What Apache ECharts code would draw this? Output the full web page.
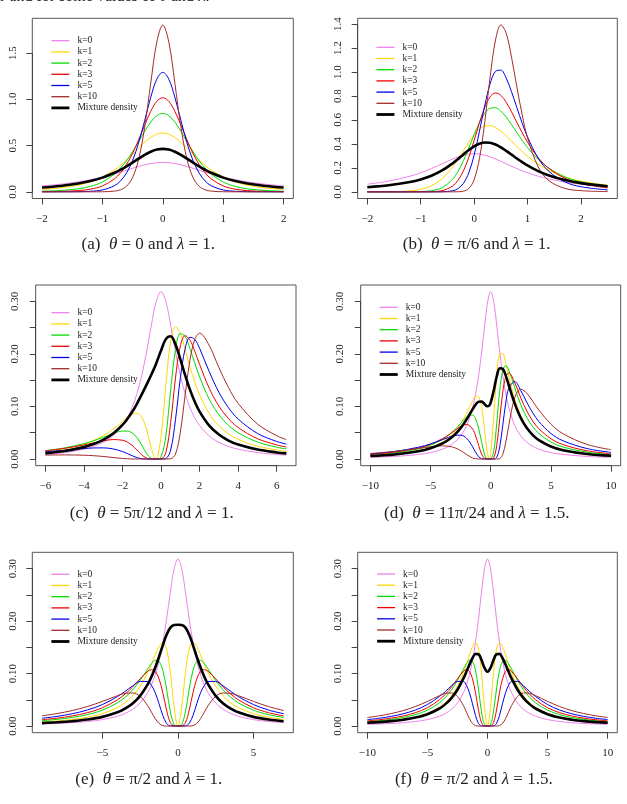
<!DOCTYPE html>
<html><head><meta charset="utf-8">
<script src="https://cdn.jsdelivr.net/npm/echarts@6/dist/echarts.min.js"></script>
<style>html,body{margin:0;padding:0;background:#fff}#c{width:627px;height:804px}</style>
</head><body><div id="c"></div>
<script>
// ---------- Panel (a): theta = 0, lambda = 1 ----------
const XA = [-2,-1.7,-1.4,-1.2,-1,-0.8,-0.7,-0.6,-0.5,-0.4,-0.3,-0.2,-0.1,0,0.1,0.2,0.3,0.4,0.5,0.6,0.7,0.8,1,1.2,1.4,1.7,2];
const A_K0 = [.0637,.0818,.1075,.1304,.1592,.1941,.2136,.2341,.2546,.2744,.2920,.3061,.3152,.3183,.3152,.3061,.2920,.2744,.2546,.2341,.2136,.1941,.1592,.1304,.1075,.0818,.0637];
const A_K1 = [.0255,.0421,.0726,.1069,.1592,.2367,.2867,.3442,.4074,.4731,.5358,.5886,.6241,.6366,.6241,.5886,.5358,.4731,.4074,.3442,.2867,.2367,.1592,.1069,.0726,.0421,.0255];
const A_K2 = [.0068,.0144,.0328,.0585,.1061,.1924,.2566,.3374,.4346,.5437,.6554,.7546,.8239,.8488,.8239,.7546,.6554,.5437,.4346,.3374,.2566,.1924,.1061,.0585,.0328,.0144,.0068];
const A_K3 = [.0016,.0045,.0132,.0287,.0637,.1408,.2067,.2977,.4172,.5626,.7216,.8707,.9789,1.0186,.9789,.8707,.7216,.5626,.4172,.2977,.2067,.1408,.0637,.0287,.0132,.0045,.0016];
const A_K5 = [.0001,.0004,.0019,.0061,.0202,.0665,.1182,.2045,.3390,.5310,.7713,1.0222,1.2186,1.2935,1.2186,1.0222,.7713,.5310,.3390,.2045,.1182,.0665,.0202,.0061,.0019,.0004,.0001];
const A_K10 = [0,0,0,.0001,.0009,.0078,.0225,.0614,.1551,.3531,.6998,1.1732,1.6189,1.8060,1.6189,1.1732,.6998,.3531,.1551,.0614,.0225,.0078,.0009,.0001,0,0,0];
const A_MIX = [.0468,.0635,.0899,.1163,.1538,.2063,.2390,.2763,.3170,.3593,.3998,.4341,.4573,.4654,.4573,.4341,.3998,.3593,.3170,.2763,.2390,.2063,.1538,.1163,.0899,.0635,.0468];

// ---------- Panel (b): theta = pi/6, lambda = 1 ----------
const XB = [-2,-1.6,-1.2,-1,-0.8,-0.6,-0.4,-0.3,-0.2,-0.1,0,0.1,0.2,0.3,0.4,0.5,0.6,0.7,0.8,0.9,1,1.2,1.4,1.7,2,2.5];
const B_K0 = [.0637,.0894,.1304,.1592,.1941,.2340,.2744,.2920,.3061,.3152,.3183,.3152,.3061,.2920,.2744,.2546,.2340,.2136,.1941,.1759,.1592,.1304,.1075,.0818,.0637,.0439];
const B_K1 = [.0005,.0002,.0076,.0213,.0514,.1103,.2099,.2747,.3453,.4156,.4775,.5237,.5492,.5531,.5377,.5075,.4680,.4240,.3794,.3366,.2970,.2298,.1782,.1239,.0887,.0542];
const B_K2 = [0,0,.0003,.0019,.0091,.0347,.1070,.1722,.2598,.3653,.4775,.5800,.6571,.6983,.7023,.6742,.6238,.5610,.4944,.4294,.3694,.2699,.1968,.1250,.0823,.0446];
const B_K3 = [0,0,0,.0002,.0014,.0098,.0491,.0972,.1759,.2890,.4297,.5783,.7075,.7936,.8257,.8061,.7483,.6681,.5798,.4931,.4137,.2852,.1957,.1136,.0688,.0331];
const B_K5 = [0,0,0,0,0,.0007,.0091,.0273,.0711,.1596,.3070,.5069,.7233,.9037,1.0064,1.0163,.9497,.8356,.7032,.5734,.4573,.2810,.1706,.0827,.0424,.0160];
const B_K10 = [0,0,0,0,0,0,.0001,.0009,.0057,.0278,.1017,.2802,.5875,.9610,1.2681,1.3936,1.3240,1.1231,.8753,.6423,.4513,.2080,.0930,.0287,.0097,.0020];
const B_MIX = [.0388,.0543,.0814,.1032,.1340,.1782,.2389,.2748,.3125,.3489,.3802,.4023,.4123,.4093,.3948,.3713,.3422,.3105,.2787,.2485,.2206,.1734,.1370,.0983,.0727,.0469];

// ---------- Panel (c): theta = 5pi/12, lambda = 1 ----------
const XC = [-6,-5,-4,-3.5,-3,-2.5,-2,-1.75,-1.5,-1.25,-1,-0.75,-0.5,-0.27,0,0.25,0.5,0.75,1,1.25,1.5,1.75,2,2.5,3,3.5,4,5,6,6.5];
const C_K0 = [.0086,.0122,.0187,.0240,.0318,.0439,.0637,.0784,.0979,.1242,.1592,.2037,.2546,.2967,.3183,.2996,.2546,.2037,.1592,.1242,.0979,.0784,.0637,.0439,.0318,.0240,.0187,.0122,.0086,.0074];
const C_K1 = [.0143,.0197,.0286,.0353,.0443,.0563,.0713,.0790,.0854,.0872,.0796,.0565,.0205,0,.0427,.1412,.2242,.2521,.2387,.2084,.1758,.1465,.1222,.0866,.0634,.0480,.0374,.0244,.0171,.0145];
const C_K2 = [.0158,.0211,.0292,.0347,.0412,.0481,.0532,.0532,.0496,.0408,.0265,.0105,.0011,0,.0038,.0444,.1316,.2080,.2387,.2331,.2103,.1827,.1564,.1138,.0843,.0640,.0499,.0324,.0225,.0192];
const C_K3 = [.0157,.0203,.0268,.0306,.0344,.0370,.0357,.0322,.0260,.0172,.0080,.0017,.0001,0,.0003,.0125,.0695,.1544,.2149,.2347,.2264,.2050,.1801,.1346,.1007,.0768,.0599,.0387,.0268,.0227];
const C_K5 = [.0137,.0167,.0199,.0210,.0212,.0193,.0142,.0104,.0063,.0027,.0006,0,0,0,0,.0009,.0171,.0750,.1535,.2097,.2315,.2277,.2106,.1662,.1270,.0975,.0760,.0487,.0334,.0282];
const C_K10 = [.0074,.0078,.0072,.0063,.0048,.0029,.0011,.0005,.0001,0,0,0,0,0,0,0,.0004,.0095,.0508,.1216,.1880,.2273,.2394,.2161,.1741,.1359,.1059,.0666,.0444,.0370];
const C_MIX = [.0110,.0153,.0226,.0284,.0364,.0479,.0648,.0760,.0894,.1051,.1228,.1415,.1608,.1800,.2063,.2281,.2334,.2179,.1901,.1596,.1319,.1088,.0902,.0635,.0465,.0351,.0274,.0179,.0125,.0107];

// ---------- Panel (d): theta = 11pi/24, lambda = 1.5 ----------
const XD = [-10,-8,-6,-5,-4,-3.5,-3,-2.5,-2,-1.5,-1.25,-1,-0.75,-0.5,-0.3,-0.13,0,0.25,0.5,0.75,1,1.25,1.5,2,2.5,3,3.5,4,5,6,8,10];
const D_K0 = [.0032,.0049,.0086,.0122,.0187,.0240,.0318,.0439,.0637,.0979,.1242,.1592,.2037,.2546,.2920,.3130,.3183,.2996,.2546,.2037,.1592,.1242,.0979,.0637,.0439,.0318,.0240,.0187,.0122,.0086,.0049,.0032];
const D_K1 = [.0060,.0092,.0157,.0219,.0324,.0404,.0515,.0668,.0874,.1109,.1192,.1180,.0980,.0543,.0149,0,.0108,.0807,.1598,.1992,.2003,.1819,.1577,.1137,.0825,.0614,.0470,.0370,.0244,.0172,.0098,.0063];
const D_K2 = [.0076,.0115,.0192,.0262,.0374,.0454,.0555,.0677,.0800,.0838,.0762,.0583,.0314,.0077,.0005,0,.0003,.0145,.0669,.1299,.1681,.1776,.1693,.1355,.1032,.0789,.0613,.0486,.0324,.0229,.0131,.0084];
const D_K3 = [.0086,.0129,.0211,.0282,.0388,.0458,.0539,.0618,.0658,.0569,.0439,.0259,.0091,.0010,0,0,0,.0024,.0252,.0762,.1270,.1561,.1636,.1452,.1163,.0913,.0720,.0576,.0387,.0274,.0157,.0101];
const D_K5 = [.0098,.0143,.0224,.0287,.0369,.0412,.0448,.0454,.0394,.0232,.0128,.0045,.0007,0,0,0,0,0,.0032,.0232,.0639,.1063,.1347,.1472,.1302,.1077,.0875,.0713,.0487,.0348,.0199,.0127];
const D_K10 = [.0105,.0144,.0201,.0232,.0250,.0243,.0216,.0161,.0084,.0019,.0005,0,0,0,0,0,0,0,0,.0009,.0088,.0312,.0637,.1169,.1327,.1252,.1096,.0932,.0665,.0482,.0278,.0177];
const D_MIX = [.0057,.0087,.0147,.0203,.0296,.0366,.0460,.0587,.0754,.0948,.1035,.1090,.1091,.1042,.1004,.1016,.1074,.1299,.1569,.1725,.1715,.1587,.1408,.1053,.0780,.0588,.0454,.0359,.0238,.0168,.0096,.0062];

// ---------- Panels (e),(f): theta = pi/2 (component curves shared), lambda = 1 / 1.5 ----------
const XF = [-10,-9,-8,-7,-6,-5,-4,-3.5,-3,-2.5,-2,-1.75,-1.5,-1.25,-1,-0.75,-0.5,-0.25,0,0.25,0.5,0.75,1,1.25,1.5,1.75,2,2.5,3,3.5,4,5,6,7,8,9,10];
const F_K0 = [.0032,.0039,.0049,.0064,.0086,.0122,.0187,.0240,.0318,.0439,.0637,.0784,.0979,.1242,.1592,.2037,.2546,.2996,.3183,.2996,.2546,.2037,.1592,.1242,.0979,.0784,.0637,.0439,.0318,.0240,.0187,.0122,.0086,.0064,.0049,.0039,.0032];
const F_K1 = [.0062,.0077,.0096,.0125,.0167,.0235,.0352,.0444,.0573,.0757,.1019,.1181,.1356,.1515,.1592,.1467,.1019,.0353,0,.0353,.1019,.1467,.1592,.1515,.1356,.1181,.1019,.0757,.0573,.0444,.0352,.0235,.0167,.0125,.0096,.0077,.0062];
const F_K2 = [.0082,.0101,.0127,.0163,.0217,.0302,.0442,.0548,.0688,.0870,.1087,.1187,.1252,.1232,.1061,.0704,.0272,.0028,0,.0028,.0272,.0704,.1061,.1232,.1252,.1187,.1087,.0870,.0688,.0548,.0442,.0302,.0217,.0163,.0127,.0101,.0082];
const F_K3 = [.0098,.0120,.0150,.0192,.0254,.0348,.0500,.0608,.0743,.0900,.1043,.1074,.1040,.0901,.0637,.0304,.0065,.0002,0,.0002,.0065,.0304,.0637,.0901,.1040,.1074,.1043,.0900,.0743,.0608,.0500,.0348,.0254,.0192,.0150,.0120,.0098];
const F_K5 = [.0122,.0148,.0184,.0234,.0305,.0409,.0562,.0659,.0764,.0850,.0848,.0775,.0633,.0426,.0202,.0050,.0003,0,0,0,.0003,.0050,.0202,.0426,.0633,.0775,.0848,.0850,.0764,.0659,.0562,.0409,.0305,.0234,.0184,.0148,.0122];
const F_K10 = [.0162,.0195,.0238,.0295,.0371,.0469,.0579,.0622,.0630,.0565,.0388,.0264,.0141,.0050,.0009,0,0,0,0,0,0,0,.0009,.0050,.0141,.0264,.0388,.0565,.0630,.0622,.0579,.0469,.0371,.0295,.0238,.0195,.0162];
const E_MIX = [.0046,.0056,.0071,.0092,.0123,.0174,.0261,.0331,.0430,.0575,.0792,.0939,.1115,.1319,.1537,.1738,.1875,.1926,.1931,.1926,.1875,.1738,.1537,.1319,.1115,.0939,.0792,.0575,.0430,.0331,.0261,.0174,.0123,.0092,.0071,.0056,.0046];
const F_MIX = [.0061,.0074,.0093,.0121,.0161,.0225,.0334,.0417,.0532,.0691,.0908,.1037,.1172,.1295,.1374,.1368,.1260,.1107,.1033,.1107,.1260,.1368,.1374,.1295,.1172,.1037,.0908,.0691,.0532,.0417,.0334,.0225,.0161,.0121,.0093,.0074,.0061];

const NAMES = ['k=0','k=1','k=2','k=3','k=5','k=10','Mixture density'];
const X_TICKS = {a:[-2,2,1], b:[-2,2,1], c:[-6,6,2], d:[-10,10,5], e:[-5,5,5], f:[-10,10,5]};
const Y_TICKS = {a:[0,1.5,0.5], b:[0,1.4,0.2], c:[0,0.3,0.05], d:[0,0.3,0.05], e:[0,0.3,0.05], f:[0,0.3,0.05]};
const CAPTIONS = {
  a:['(a)','θ',' = 0 and ','λ',' = 1.'],
  b:['(b)','θ',' = π/6 and ','λ',' = 1.'],
  c:['(c)','θ',' = 5π/12 and ','λ',' = 1.'],
  d:['(d)','θ',' = 11π/24 and ','λ',' = 1.5.'],
  e:['(e)','θ',' = π/2 and ','λ',' = 1.'],
  f:['(f)','θ',' = π/2 and ','λ',' = 1.5.']
};

// ---------- styles & layout ----------
const COLORS = ['#EE82EE','#FFD700','#00DD00','#F00000','#0000EE','#A52A2A','#000000'];
const WIDTHS = [1,1,1,1,1,1,2.6];
const FONT = "'Liberation Serif','DejaVu Serif',serif";
const AX = '#444';

const PANELS = [
 {id:'a', x:XA, ys:[A_K0,A_K1,A_K2,A_K3,A_K5,A_K10,A_MIX], box:[32.3,18.3,293.3,198.5], xr:[-2.16,2.16], yr:[-0.0722,1.8782], dec:1, leg:[50,35.2], cap:[148.3,245], ylm:13.5},
 {id:'b', x:XB, ys:[B_K0,B_K1,B_K2,B_K3,B_K5,B_K10,B_MIX], box:[357.7,18.3,617.3,198.5], xr:[-2.18,2.68], yr:[-0.0557,1.4493], dec:1, leg:[375,41.8], cap:[476.7,245], ylm:14},
 {id:'c', x:XC, ys:[C_K0,C_K1,C_K2,C_K3,C_K5,C_K10,C_MIX], box:[35.7,285,296,465.7], xr:[-6.5,7.0], yr:[-0.01273,0.33104], dec:2, leg:[50,307.2], cap:[151.7,513.3], ylm:15},
 {id:'d', x:XD, ys:[D_K0,D_K1,D_K2,D_K3,D_K5,D_K10,D_MIX], box:[360.7,285,620.7,465.7], xr:[-10.8,10.8], yr:[-0.01273,0.33104], dec:2, leg:[378.3,301.8], cap:[476.7,513.3], ylm:15.5},
 {id:'e', x:XF, ys:[F_K0,F_K1,F_K2,F_K3,F_K5,F_K10,E_MIX], box:[32.3,552.3,293.3,732.7], xr:[-9.64,7.64], yr:[-0.01273,0.33104], dec:2, leg:[50,568.8], cap:[148.8,780], ylm:13.5, xlim:[-9,7]},
 {id:'f', x:XF, ys:[F_K0,F_K1,F_K2,F_K3,F_K5,F_K10,F_MIX], box:[357.7,552.3,617.3,732.7], xr:[-10.8,10.8], yr:[-0.01273,0.33104], dec:2, leg:[375.7,568.5], cap:[473.8,780], ylm:14}
];

const grid=[], xAxis=[], yAxis=[], series=[], legend=[], graphic=[];
const minus = s => String(s).replace('-', '\u2212');

PANELS.forEach((p, i) => {
  const [l,t,r,b] = p.box;
  const px = v => l + (v - p.xr[0]) / (p.xr[1] - p.xr[0]) * (r - l);
  const py = v => b - (v - p.yr[0]) / (p.yr[1] - p.yr[0]) * (b - t);
  const xt = X_TICKS[p.id], yt = Y_TICKS[p.id];
  grid.push({left:l, top:t, width:r-l, height:b-t, show:true, borderColor:'#555', borderWidth:1, backgroundColor:'transparent'});
  const gl = px(xt[0]), gr = px(xt[1]), gt = py(yt[1]), gb = py(yt[0]);
  grid.push({left:gl, top:gt, width:gr-gl, height:gb-gt, show:false});
  xAxis.push({gridIndex:2*i, type:'value', min:p.xr[0], max:p.xr[1], show:false});
  yAxis.push({gridIndex:2*i, type:'value', min:p.yr[0], max:p.yr[1], show:false});
  xAxis.push({gridIndex:2*i+1, type:'value', min:xt[0], max:xt[1], interval:xt[2], position:'bottom', offset:b-gb,
    axisLine:{show:true, onZero:false, lineStyle:{color:AX, width:1}}, axisTick:{show:true, inside:false, length:6, lineStyle:{color:AX, width:1}},
    axisLabel:{margin:15, fontFamily:FONT, fontSize:11, color:'#222', formatter:v=>minus(v)}, splitLine:{show:false}});
  const dec = p.dec;
  yAxis.push({gridIndex:2*i+1, type:'value', min:yt[0], max:yt[1], interval:yt[2], position:'left', offset:gl-l,
    axisLine:{show:true, onZero:false, lineStyle:{color:AX, width:1}}, axisTick:{show:true, inside:false, length:6, lineStyle:{color:AX, width:1}},
    axisLabel:{margin:p.ylm, rotate:90, fontFamily:FONT, fontSize:11, color:'#222',
      formatter:v=>{ if (dec===2 && Math.abs(v*10-Math.round(v*10))>1e-6) return ''; return v.toFixed(dec);} },
    splitLine:{show:false}});
  p.ys.forEach((ys, k) => {
    let data = p.x.map((xv, j) => [xv, ys[j]]);
    if (p.xlim) data = data.filter(d => d[0] >= p.xlim[0] && d[0] <= p.xlim[1]);
    series.push({type:'line', name:NAMES[k], xAxisIndex:2*i, yAxisIndex:2*i, data, symbol:'none', showSymbol:false,
      smooth:0.35, lineStyle:{color:COLORS[k], width:WIDTHS[k]}, itemStyle:{color:COLORS[k]}, z:2+k, silent:true});
  });
  legend.push({orient:'vertical', left:p.leg[0], top:p.leg[1], padding:0, itemWidth:18, itemHeight:11, itemGap:0.2, selectedMode:false,
    data:NAMES.map((n,k)=>({name:n, lineStyle:{width: k===6 ? 2.8 : 1.3}})), itemStyle:{opacity:0},
    textStyle:{fontFamily:FONT, fontSize:9.5, color:'#222', lineHeight:11, padding:[0,0,0,3]}});
  const c = CAPTIONS[p.id];
  graphic.push({type:'text', x:p.cap[0], y:p.cap[1], silent:true,
    style:{text:'{n|'+c[0]+'  }{i|'+c[1]+'}{n|'+c[2]+'}{i|'+c[3]+'}{n|'+c[4]+'}', textAlign:'center', textVerticalAlign:'middle',
      rich:{n:{fontFamily:FONT, fontSize:17, fill:'#222'}, i:{fontFamily:FONT, fontSize:17, fontStyle:'italic', fill:'#222'}}}});
});

// clipped sentence at the very top of the page
graphic.push({type:'text', x:0, y:4.5, silent:true,
  style:{text:'r and for some values of θ and λ.', fontFamily:FONT, fontSize:16, fill:'#222', textAlign:'left', textVerticalAlign:'bottom'}});

const chart = echarts.init(document.getElementById('c'), null, {renderer:'canvas'});
chart.setOption({animation:false, backgroundColor:'#fff', grid, xAxis, yAxis, series, legend, graphic});
</script>
</body></html>
